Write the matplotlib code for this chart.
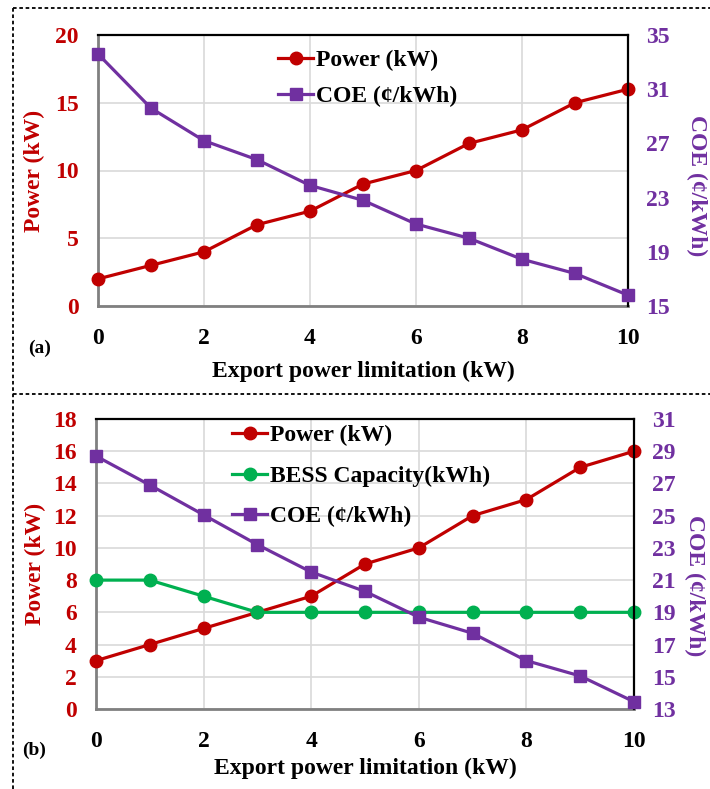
import matplotlib.pyplot as plt
from matplotlib.lines import Line2D

plt.rcParams["font.family"] = ["Liberation Serif", "DejaVu Serif"]
plt.rcParams["font.weight"] = "bold"
plt.rcParams["axes.labelweight"] = "bold"

W, H = 710, 789

# Export power limitation (kW)
export_kw = [0, 1, 2, 3, 4, 5, 6, 7, 8, 9, 10]

# (a) without BESS
power_a = [2, 3, 4, 6, 7, 9, 10, 12, 13, 15, 16]
coe_a = [33.6, 29.6, 27.2, 25.8, 23.9, 22.8, 21.05, 20.0, 18.45, 17.4, 15.8]

# (b) with BESS
power_b = [3, 4, 5, 6, 7, 9, 10, 12, 13, 15, 16]
bess_b = [8, 8, 7, 6, 6, 6, 6, 6, 6, 6, 6]
coe_b = [28.7, 26.9, 25.05, 23.2, 21.5, 20.3, 18.7, 17.7, 16.0, 15.05, 13.45]

C_RED = "#C00000"
C_PUR = "#7030A0"
C_GRN = "#00B050"
FS = 17


def px_rect(x0, y0, x1, y1):
    return [x0 / W, 1 - y1 / H, (x1 - x0) / W, (y1 - y0) / H]


def style_axes(ax, ax2):
    ax.grid(True, color="#D9D9D9", linewidth=1.2)
    ax.set_axisbelow(True)
    ax.spines["left"].set_color("#808080")
    ax.spines["bottom"].set_color("#808080")
    ax.spines["left"].set_linewidth(2)
    ax.spines["bottom"].set_linewidth(2)
    for s in ("top", "right"):
        ax2.spines[s].set_color("black")
        ax2.spines[s].set_linewidth(1.6)
    ax2.spines["left"].set_visible(False)
    ax2.spines["bottom"].set_visible(False)
    ax.spines["top"].set_visible(False)
    ax.spines["right"].set_visible(False)
    ax.tick_params(length=0, pad=14, labelsize=FS)
    ax.tick_params(axis="x", pad=15.5)
    ax2.tick_params(length=0, pad=13, labelsize=FS, labelcolor=C_PUR)
    ax.tick_params(axis="y", labelcolor=C_RED)
    ax.set_xlim(0, 10)
    ax.set_xticks([0, 2, 4, 6, 8, 10])


def line(ax, y, color, marker, label, ms):
    return ax.plot(export_kw, y, color=color, lw=2.3, marker=marker, ms=ms,
                   label=label, clip_on=False, zorder=3)[0]


fig = plt.figure(figsize=(W / 100, H / 100), dpi=100, facecolor="white")

# dotted frames
fig.add_artist(Line2D([13 / W, 13 / W], [0, 1 - 8 / H], color="black", lw=1.3,
                      linestyle=(0, (2, 1.5))))
for yy in (8, 394):
    fig.add_artist(Line2D([13 / W, 1], [1 - yy / H, 1 - yy / H], color="black",
                          lw=1.3, linestyle=(0, (2, 1.5))))

# ---- panel (a)
ax = fig.add_axes(px_rect(98, 35, 628, 306))
ax2 = ax.twinx()
style_axes(ax, ax2)
ax.set_ylim(0, 20)
ax.set_yticks([0, 5, 10, 15, 20])
ax2.set_ylim(15, 35)
ax2.set_yticks([15, 19, 23, 27, 31, 35])
h1 = line(ax, power_a, C_RED, "o", "Power (kW)", 9)
h2 = line(ax2, coe_a, C_PUR, "s", "COE (¢/kWh)", 9)
ax.set_ylabel("Power (kW)", color=C_RED, fontsize=FS, va="center")
ax.yaxis.set_label_coords(-0.119, 0.5)
ax2.set_ylabel("COE (¢/kWh)", color=C_PUR, fontsize=FS, rotation=-90, va="center")
ax2.yaxis.set_label_coords(1.13, 0.446)
ax.set_xlabel("Export power limitation (kW)", fontsize=FS, labelpad=8.5)
ax2.legend([h1, h2], ["Power (kW)", "COE (¢/kWh)"], frameon=False, fontsize=FS,
           loc="upper left", bbox_to_anchor=(278 / W, 1 - 50 / H),
           bbox_transform=fig.transFigure, borderpad=0, borderaxespad=0,
           handlelength=1.5, handletextpad=0.1, labelspacing=0.6)
fig.text(28 / W, 1 - 348 / H, "(a)", fontsize=14, va="center")

# ---- panel (b)
bx = fig.add_axes(px_rect(96, 419, 634, 709))
bx2 = bx.twinx()
style_axes(bx, bx2)
bx.set_ylim(0, 18)
bx.set_yticks(range(0, 19, 2))
bx2.set_ylim(13, 31)
bx2.set_yticks(range(13, 32, 2))
g1 = line(bx, power_b, C_RED, "o", "Power (kW)", 9)
g2 = line(bx, bess_b, C_GRN, "o", "BESS Capacity(kWh)", 9)
g3 = line(bx2, coe_b, C_PUR, "s", "COE (¢/kWh)", 9)
bx.set_ylabel("Power (kW)", color=C_RED, fontsize=FS, va="center")
bx.yaxis.set_label_coords(-0.113, 0.5)
bx2.set_ylabel("COE (¢/kWh)", color=C_PUR, fontsize=FS, rotation=-90, va="center")
bx2.yaxis.set_label_coords(1.113, 0.424)
bx.set_xlabel("Export power limitation (kW)", fontsize=FS, labelpad=4.3)
bx2.legend([g1, g2, g3], ["Power (kW)", "BESS Capacity(kWh)", "COE (¢/kWh)"],
           frameon=False, fontsize=FS, loc="upper left",
           bbox_to_anchor=(232 / W, 1 - 425 / H), bbox_transform=fig.transFigure,
           borderpad=0, borderaxespad=0, handlelength=1.5, handletextpad=0.1,
           labelspacing=0.8)
fig.text(22 / W, 1 - 750 / H, "(b)", fontsize=14, va="center")

fig.savefig("out.png", dpi=100, facecolor="white")
